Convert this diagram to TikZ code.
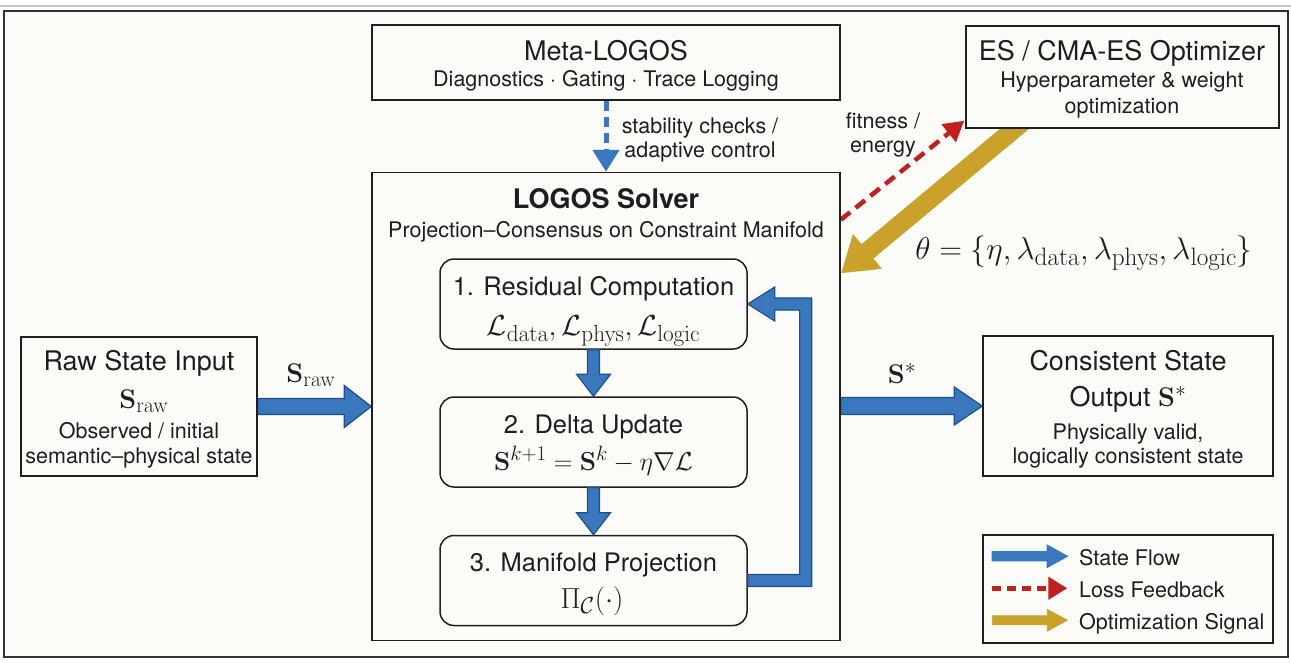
\RequirePackage{fix-cm}
\documentclass[tikz,border=0pt]{standalone}
\usepackage[no-math]{fontspec}
\setmainfont{TeX Gyre Heros}
\usepackage{amsmath}
\usetikzlibrary{calc,arrows.meta}
% slightly larger sub/superscripts in the formulas
\renewcommand\defaultscriptratio{.8}
\renewcommand\defaultscriptscriptratio{.6}

\definecolor{stateblue}{HTML}{3A78BE}
\definecolor{stateedge}{HTML}{1E4E8C}
\definecolor{lossred}{HTML}{C21F1F}
\definecolor{optgold}{HTML}{C9A12B}
\definecolor{paper}{HTML}{FBFBF8}
\definecolor{ink}{HTML}{1E1E1E}

\pgfdeclarelayer{base}
\pgfdeclarelayer{links}
\pgfsetlayers{base,links,main}

% filled block arrow from #2 to #3: shaft half-width #4, head half-width #5, head length #6
\newcommand\blockarrow[6][]{%
  \coordinate (ba-s) at (#2);
  \coordinate (ba-e) at (#3);
  \coordinate (ba-b) at ($(ba-e)!#6!(ba-s)$);
  \filldraw[#1] ($(ba-s)!#4!90:(ba-e)$) -- ($(ba-b)!#4!-90:(ba-s)$)
    -- ($(ba-b)!#5!-90:(ba-s)$) -- (ba-e) -- ($(ba-b)!#5!90:(ba-s)$)
    -- ($(ba-b)!#4!90:(ba-s)$) -- ($(ba-s)!#4!-90:(ba-e)$) -- cycle;}

\tikzset{
  box/.style={draw=ink, line width=1.5pt, fill=paper, inner sep=0pt},
  stepbox/.style={box, rounded corners=14pt},
  txt/.style={anchor=base, inner sep=0pt, text=ink},
  ftitle/.style={font=\fontsize{27}{32}\selectfont},
  fsub/.style={font=\fontsize{21.5}{26}\selectfont},
  fstep/.style={font=\fontsize{25.5}{30}\selectfont},
  fmath/.style={font=\fontsize{27}{32}\selectfont},
  fatblue/.style={fill=stateblue, draw=stateedge, line width=1.2pt, line join=miter},
  fatgold/.style={fill=optgold, draw=optgold, line width=0.6pt, line join=miter},
  ctrl/.style={draw=stateblue, line width=5pt, dash pattern=on 10pt off 6pt,
    -{Triangle[length=22pt,width=26pt]}},
  loss/.style={draw=lossred, line width=4.5pt, dash pattern=on 12pt off 7pt,
    -{Triangle[length=20pt,width=22pt]}},
  lossleg/.style={draw=lossred, line width=5pt, dash pattern=on 9pt off 6pt,
    -{Triangle[length=19pt,width=22pt]}},
}

\begin{document}
\begin{tikzpicture}[x=1pt,y=-1pt]
\useasboundingbox (0,0) rectangle (1291,662);

\begin{pgfonlayer}{base}
  \fill[white] (0,0) rectangle (1291,662);
  \draw[black!22, line width=1.2pt] (0,6) -- (1291,6);
  \draw[draw=black!80, fill=paper, line width=1.6pt] (4,11) rectangle (1288,657);
\end{pgfonlayer}

% ---- boxes ----
\node[box, minimum width=468, minimum height=75] (meta) at (606,62.5) {};
\node[box, minimum width=313, minimum height=102] (es) at (1122.5,77) {};
\node[box, minimum width=468, minimum height=468] (solver) at (606,406.5) {};
\node[stepbox, minimum width=307, minimum height=90] (step1) at (593.5,304) {};
\node[stepbox, minimum width=307, minimum height=90] (step2) at (593.5,442) {};
\node[stepbox, minimum width=307, minimum height=90] (step3) at (593.5,580.5) {};
\node[box, minimum width=236, minimum height=139] (raw) at (139,406.5) {};
\node[box, minimum width=290, minimum height=140] (out) at (1128,406) {};
\node[box, minimum width=290, minimum height=108] (legend) at (1128,589) {};

% ---- texts ----
\node[txt, ftitle] (metaT) at (606,60) {Meta-LOGOS};
\node[txt, fsub] (metaS) at (606,86) {Diagnostics $\cdot$ Gating $\cdot$ Trace Logging};

\node[txt, ftitle] (esT) at (1122,60) {ES / CMA-ES Optimizer};
\node[txt, fsub] (esS1) at (1122,87) {Hyperparameter \& weight};
\node[txt, fsub] (esS2) at (1122,113) {optimization};

\node[txt, fsub] (ctrlA) at (700,133) {stability checks /};
\node[txt, fsub] (ctrlB) at (700,157) {adaptive control};

\node[txt, fsub] (fitA) at (883,128) {fitness /};
\node[txt, fsub] (fitB) at (883,152) {energy};

\node[txt, font=\fontsize{31.5}{36}\selectfont] (theta) at (1084,259)
  {$\theta = \{\eta, \lambda_{\mathrm{data}}, \lambda_{\mathrm{phys}}, \lambda_{\mathrm{logic}}\}$};

\node[txt, ftitle] (solT) at (606,208) {\bfseries LOGOS Solver};
\node[txt, fsub] (solS) at (606,237) {Projection--Consensus on Constraint Manifold};

\node[txt, fstep] (s1T) at (593.5,295) {1. Residual Computation};
\node[txt, font=\fontsize{29}{34}\selectfont] (s1M) at (593.5,335)
  {$\mathcal{L}_{\mathrm{data}}, \mathcal{L}_{\mathrm{phys}}, \mathcal{L}_{\mathrm{logic}}$};
\node[txt, fstep] (s2T) at (593.5,433) {2. Delta Update};
\node[txt, font=\fontsize{26}{31}\selectfont] (s2M) at (593.5,470)
  {$\mathbf{S}^{k+1} = \mathbf{S}^{k} - \eta\nabla\mathcal{L}$};
\node[txt, fstep] (s3T) at (593.5,571) {3. Manifold Projection};
\node[txt, font=\fontsize{29}{34}\selectfont] (s3M) at (592,608) {$\Pi_{\mathcal{C}}(\cdot)$};

\node[txt, ftitle] (rawT) at (139,370) {Raw State Input};
\node[txt, fmath] (rawM) at (144,408) {$\mathbf{S}_{\mathrm{raw}}$};
\node[txt, fsub] (rawA) at (139,438) {Observed / initial};
\node[txt, fsub] (rawB) at (139,463) {semantic--physical state};

\node[txt, fmath] (inLbl) at (311,382) {$\mathbf{S}_{\mathrm{raw}}$};
\node[txt, fmath] (outLbl) at (902,383) {$\mathbf{S}^{*}$};

\node[txt, ftitle] (outT) at (1128,370) {Consistent State};
\node[txt, ftitle] (outM) at (1128,406) {Output $\mathbf{S}^{*}$};
\node[txt, fsub] (outA) at (1128,439) {Physically valid,};
\node[txt, fsub] (outB) at (1128,463) {logically consistent state};

\node[txt, fsub, anchor=base west] (legA) at (1079,565) {State Flow};
\node[txt, fsub, anchor=base west] (legB) at (1079,597) {Loss Feedback};
\node[txt, fsub, anchor=base west] (legC) at (1079,629) {Optimization Signal};

% ---- connectors between the outer boxes (kept under the boxes) ----
\begin{pgfonlayer}{links}
  \blockarrow[fatblue]{raw.east}{solver.west |- raw.east}{8pt}{21pt}{27pt}
  \blockarrow[fatblue]{solver.east |- out.west}{out.west}{8.5pt}{19pt}{28pt}
  \draw[ctrl] (meta.south) -- (solver.north);
  \draw[loss] ($(solver.north east)+(0,48)$) -- ($(es.south west)+(-1,-8)$);
  \blockarrow[fatgold]{$(es.south west)+(65,-13)$}{$(solver.north east)+(1,101)$}{9pt}{22pt}{33pt}
\end{pgfonlayer}

% ---- solver iteration ----
\blockarrow[fatblue]{step1.south}{step2.north}{6pt}{17pt}{22pt}
\blockarrow[fatblue]{step2.south}{step3.north}{6pt}{17pt}{22pt}
\coordinate (lp1) at (step3.east);
\coordinate (lp2) at (step1.east);
\filldraw[fatblue] ($(lp1)+(0,6)$) -- ($(lp1)+(64,6)$) -- ($(lp2)+(64,-6)$)
  -- ($(lp2)+(27,-6)$) -- ($(lp2)+(27,-17)$) -- (lp2) -- ($(lp2)+(27,17)$)
  -- ($(lp2)+(27,6)$) -- ($(lp2)+(52,6)$) -- ($(lp1)+(52,-6)$) -- ($(lp1)+(0,-6)$) -- cycle;

% ---- legend glyphs ----
\coordinate (lgA0) at ($(legend.north west)+(10,22)$);
\coordinate (lgA1) at ($(legend.north west)+(85,22)$);
\coordinate (lgB0) at ($(legend.north west)+(10,54)$);
\coordinate (lgB1) at ($(legend.north west)+(85,54)$);
\coordinate (lgC0) at ($(legend.north west)+(10,86)$);
\coordinate (lgC1) at ($(legend.north west)+(85,86)$);
\blockarrow[fatblue, draw=stateblue]{lgA0}{lgA1}{4.5pt}{11pt}{20pt}
\draw[lossleg] (lgB0) -- (lgB1);
\blockarrow[fatgold]{lgC0}{lgC1}{4.5pt}{11pt}{20pt}

\end{tikzpicture}
\end{document}
